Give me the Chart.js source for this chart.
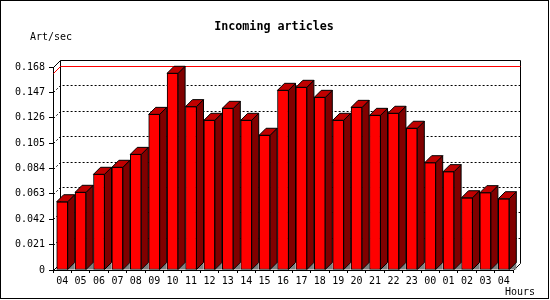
<!DOCTYPE html>
<html>
<head>
<meta charset="utf-8">
<script src="https://cdn.jsdelivr.net/npm/chart.js@4"></script>
<style>
  html, body { margin: 0; padding: 0; background: #fff; }
  canvas { display: block; }
</style>
</head>
<body>
<canvas id="c" width="550" height="300"></canvas>
<script>
// ---- data ----
const titleText = 'Incoming articles';
const yUnit = 'Art/sec';
const xUnit = 'Hours';
const hours = ['04','05','06','07','08','09','10','11','12','13','14','15','16','17','18','19','20','21','22','23','00','01','02','03','04'];
const articlesPerSec = [0.0565,0.0643,0.0792,0.0850,0.0957,0.1288,0.1628,0.1352,0.1239,0.1338,0.1239,0.1115,0.1487,0.1512,0.1429,0.1239,0.1346,0.1280,0.1297,0.1173,0.0888,0.0814,0.0598,0.0640,0.0590];
const yTickValues = [0, 0.021, 0.042, 0.063, 0.084, 0.105, 0.126, 0.147, 0.168];
const yTickLabels = ['0', '0.021', '0.042', '0.063', '0.084', '0.105', '0.126', '0.147', '0.168'];

const DEPTH = 7;
const MONO = '"DejaVu Sans Mono", "Liberation Mono", monospace';

const threeD = {
  id: 'threeD',
  beforeDraw(chart) {
    const { ctx, width, height } = chart;
    ctx.save();
    ctx.fillStyle = '#fff';
    ctx.fillRect(0, 0, width, height);
    ctx.strokeStyle = '#000';
    ctx.lineWidth = 1;
    ctx.strokeRect(0.5, 0.5, 548, 298);
    ctx.fillStyle = '#000';
    ctx.textBaseline = 'middle';
    ctx.textAlign = 'center';
    ctx.font = 'bold 11.7px ' + MONO;
    ctx.fillText(titleText, 274, 27);
    ctx.textAlign = 'left';
    ctx.font = '10px ' + MONO;
    ctx.fillText(yUnit, 30, 37);
    ctx.fillText(xUnit, 505, 292);
    ctx.restore();
  },
  beforeDatasetsDraw(chart) {
    const { ctx, chartArea: a, scales: { y } } = chart;
    const d = DEPTH;
    const L = Math.round(a.left) + 0.5, R = Math.round(a.right) + 0.5;
    const T = Math.round(a.top) + 0.5, B = Math.round(a.bottom) + 0.5;
    ctx.save();
    ctx.lineWidth = 1;
    ctx.strokeStyle = '#000';
    // dotted grid on back plane
    ctx.setLineDash([2, 2]);
    yTickValues.forEach(v => {
      if (v <= y.min || v >= y.max) return;
      const py = Math.round(y.getPixelForValue(v)) + 0.5;
      ctx.beginPath();
      ctx.moveTo(L, py);
      ctx.lineTo(L + d, py - d);
      ctx.lineTo(R + d, py - d);
      ctx.stroke();
    });
    ctx.setLineDash([]);
    // back frame
    ctx.beginPath();
    ctx.moveTo(L + d, B - d);
    ctx.lineTo(L + d, T - d);
    ctx.lineTo(R + d, T - d);
    ctx.lineTo(R + d, B - d);
    ctx.moveTo(L, T); ctx.lineTo(L + d, T - d);
    ctx.moveTo(L, B); ctx.lineTo(L + d, B - d);
    ctx.moveTo(R, B); ctx.lineTo(R + d, B - d);
    ctx.stroke();
    // max line
    const maxV = Math.max(...articlesPerSec);
    const pm = Math.round(y.getPixelForValue(maxV)) + 0.5;
    ctx.strokeStyle = '#ff0000';
    ctx.beginPath();
    ctx.moveTo(L, pm);
    ctx.lineTo(L + d, pm - d);
    ctx.lineTo(R + d, pm - d);
    ctx.stroke();
    ctx.restore();
  },
  afterDatasetsDraw(chart) {
    const { ctx } = chart;
    const d = DEPTH;
    const meta = chart.getDatasetMeta(0);
    ctx.save();
    ctx.lineWidth = 1;
    ctx.strokeStyle = '#000';
    meta.data.forEach(el => {
      const p = el.getProps(['x', 'y', 'base', 'width'], true);
      const L = p.x - p.width / 2, R = p.x + p.width / 2;
      const top = p.y, base = p.base;
      // floor shadow
      ctx.fillStyle = '#808080';
      ctx.beginPath();
      ctx.moveTo(R, base); ctx.lineTo(R + d, base - d); ctx.lineTo(R + d, base); ctx.closePath();
      ctx.fill();
      // side face
      ctx.fillStyle = '#800000';
      ctx.beginPath();
      ctx.moveTo(R, top); ctx.lineTo(R + d, top - d); ctx.lineTo(R + d, base - d); ctx.lineTo(R, base); ctx.closePath();
      ctx.fill(); ctx.stroke();
      // top face
      ctx.fillStyle = '#c00000';
      ctx.beginPath();
      ctx.moveTo(L, top); ctx.lineTo(L + d, top - d); ctx.lineTo(R + d, top - d); ctx.lineTo(R, top); ctx.closePath();
      ctx.fill(); ctx.stroke();
    });
    ctx.restore();
  }
};

new Chart(document.getElementById('c'), {
  type: 'bar',
  data: {
    labels: hours,
    datasets: [{
      data: articlesPerSec,
      backgroundColor: '#ff0000',
      borderColor: '#000',
      borderWidth: 1,
      borderSkipped: false,
      barThickness: 11
    }]
  },
  options: {
    responsive: false,
    animation: false,
    devicePixelRatio: 1,
    layout: { padding: { top: 67, right: 37, bottom: 0, left: 0 } },
    plugins: { legend: { display: false }, tooltip: { enabled: false }, title: { display: false } },
    scales: {
      x: {
        afterFit: s => { s.height = 30; },
        ticks: { color: '#000', font: { family: MONO, size: 10 }, padding: 2, maxRotation: 0, autoSkip: false },
        grid: { drawOnChartArea: false, drawTicks: true, tickLength: 3, tickColor: '#000', offset: true },
        border: { display: true, color: '#000', width: 1 }
      },
      y: {
        min: 0,
        max: 0.168,
        afterBuildTicks: s => { s.ticks = yTickValues.map(v => ({ value: v })); },
        afterFit: s => { s.width = 53; },
        ticks: { color: '#000', font: { family: MONO, size: 10 }, padding: 4, callback: (v, i) => yTickLabels[i] },
        grid: { drawOnChartArea: false, drawTicks: true, tickLength: 4, tickColor: '#000' },
        border: { display: true, color: '#000', width: 1 }
      }
    }
  },
  plugins: [threeD]
});
</script>
</body>
</html>
